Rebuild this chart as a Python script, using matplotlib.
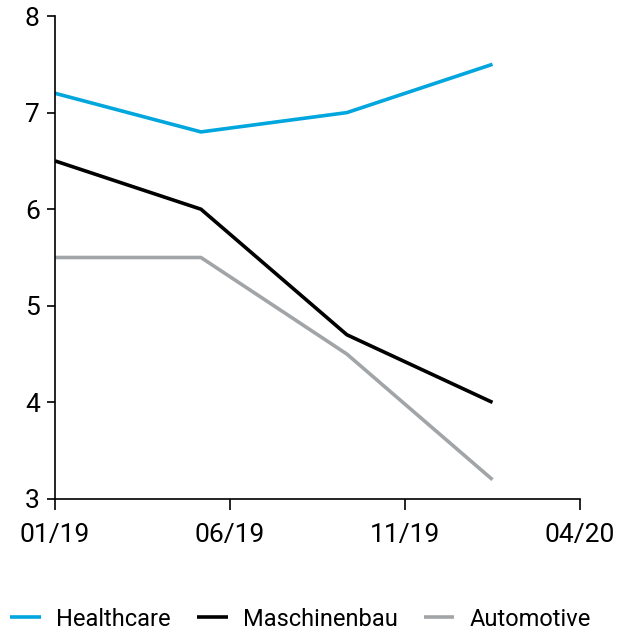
import matplotlib
matplotlib.use("Agg")
import matplotlib.pyplot as plt
from matplotlib.font_manager import fontManager

names = {f.name for f in fontManager.ttflist}
fam = ['Liberation Sans Narrow', 'DejaVu Sans'] if 'Liberation Sans Narrow' in names else ['Roboto', 'DejaVu Sans']
plt.rcParams['font.family'] = fam

# months since 01/19
x_months = [0, 4.17, 8.34, 12.5]
healthcare = [7.2, 6.8, 7.0, 7.5]
maschinenbau = [6.5, 6.0, 4.7, 4.0]
automotive = [5.5, 5.5, 4.5, 3.2]
series_names = ["Healthcare", "Maschinenbau", "Automotive"]
colors = ["#00a6dd", "#000000", "#a2a5a8"]
xtick_pos = [0, 5, 10, 15]
xtick_labels = ["01/19", "06/19", "11/19", "04/20"]
yticks = [3, 4, 5, 6, 7, 8]

fig = plt.figure(figsize=(6.19, 6.33), dpi=100)
ax = fig.add_axes([55/619, 1-499/633, (580-55)/619, (499-16)/633])

for vals, name, c in zip([healthcare, maschinenbau, automotive], series_names, colors):
    ax.plot(x_months, vals, color=c, lw=2.6, label=name, solid_capstyle='butt')

ax.set_xlim(0, 15)
ax.set_ylim(3, 8)
ax.set_xticks(xtick_pos)
ax.set_xticklabels(xtick_labels)
ax.set_yticks(yticks)
for s in ['top', 'right']:
    ax.spines[s].set_visible(False)
for s in ['left', 'bottom']:
    ax.spines[s].set_linewidth(1.2)
ax.tick_params(axis='x', length=8, width=1.2, labelsize=19, pad=9)
ax.tick_params(axis='y', length=6, width=1.2, labelsize=19, pad=5)

leg = fig.legend(loc='center left', bbox_to_anchor=(10/619, 1-619/633), ncol=3, frameon=False,
                 fontsize=17, handlelength=1.31, columnspacing=1.1, handletextpad=0.64,
                 borderaxespad=0, borderpad=0)
fig.savefig("out.png", dpi=100)
